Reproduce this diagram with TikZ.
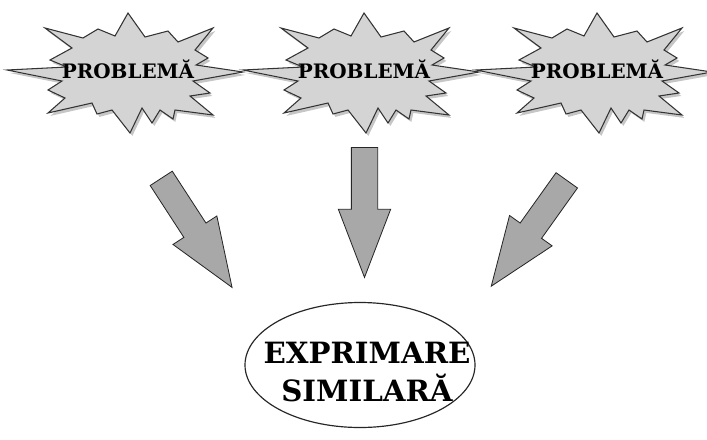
\documentclass[tikz,border=0pt]{standalone}
\usepackage{graphicx}
\usepackage{fontspec}
\setmainfont{DejaVu Serif}
\usetikzlibrary{shapes.geometric,shapes.arrows,shadows}

\definecolor{burstgray}{gray}{0.83}
\definecolor{arrowgray}{gray}{0.66}

\tikzset{
  burst/.style={draw=black!80,line width=0.9pt,fill=burstgray,line join=miter,
    drop shadow={opacity=0.45,shadow xshift=2pt,shadow yshift=-2.5pt}},
  probtext/.style={font=\fontsize{17}{20}\selectfont\bfseries,inner sep=0pt},
  bigarrow/.style={single arrow,draw=black!85,line width=0.7pt,fill=arrowgray,
    inner xsep=0pt,inner ysep=0.3825cm,minimum height=3.9cm,
    single arrow head extend=0.39cm,single arrow tip angle=42,anchor=tail},
  resultshape/.style={ellipse,draw=black!85,line width=1pt,
    minimum width=6.9cm,minimum height=3.75cm,inner sep=0pt},
  resulttext/.style={font=\fontsize{25}{32.5}\selectfont\bfseries,align=center,inner sep=0pt}
}

\begin{document}
\begin{tikzpicture}[x=0.03cm,y=-0.03cm]
\useasboundingbox (0,0) rectangle (707,439);
\begin{scope}[]
\foreach \i/\x in {1/128,2/364,3/597}{
\coordinate (burst\i) at (\x,70);
\draw[burst] [shift={(burst\i)}] (-121,0) -- (-61,-3) -- (-78,-10) -- (-56,-22) -- (-83,-42)
  -- (-45,-32) -- (-30,-41) -- (-13,-34) -- (0,-57) -- (17,-33) -- (40,-39) -- (50,-28)
  -- (85,-42) -- (67,-20) -- (80,-12) -- (68,-5) -- (115,2) -- (65,11) -- (82,23)
  -- (62,26) -- (85,45) -- (47,40) -- (45,49) -- (32,40) -- (24,53) -- (14,38)
  -- (2,63) -- (-16,40) -- (-31,44) -- (-36,33) -- (-80,43) -- (-63,28) -- (-80,20)
  -- (-66,11) -- cycle;
\node[probtext,anchor=base] (prob\i) at (\x,78) {PROBLEMĂ};
}
\end{scope}
\node[bigarrow,rotate=-57] (arrow1) at (161,178) {};
\node[bigarrow,rotate=-90] (arrow2) at (364.5,147) {};
\node[bigarrow,rotate=-125.5] (arrow3) at (567,180) {};
\node[resultshape] (result) at (360,365) {};
\node[resulttext] (resultlabel) at (367,372) {EXPRIMARE\\SIMILARĂ};
\end{tikzpicture}
\end{document}
